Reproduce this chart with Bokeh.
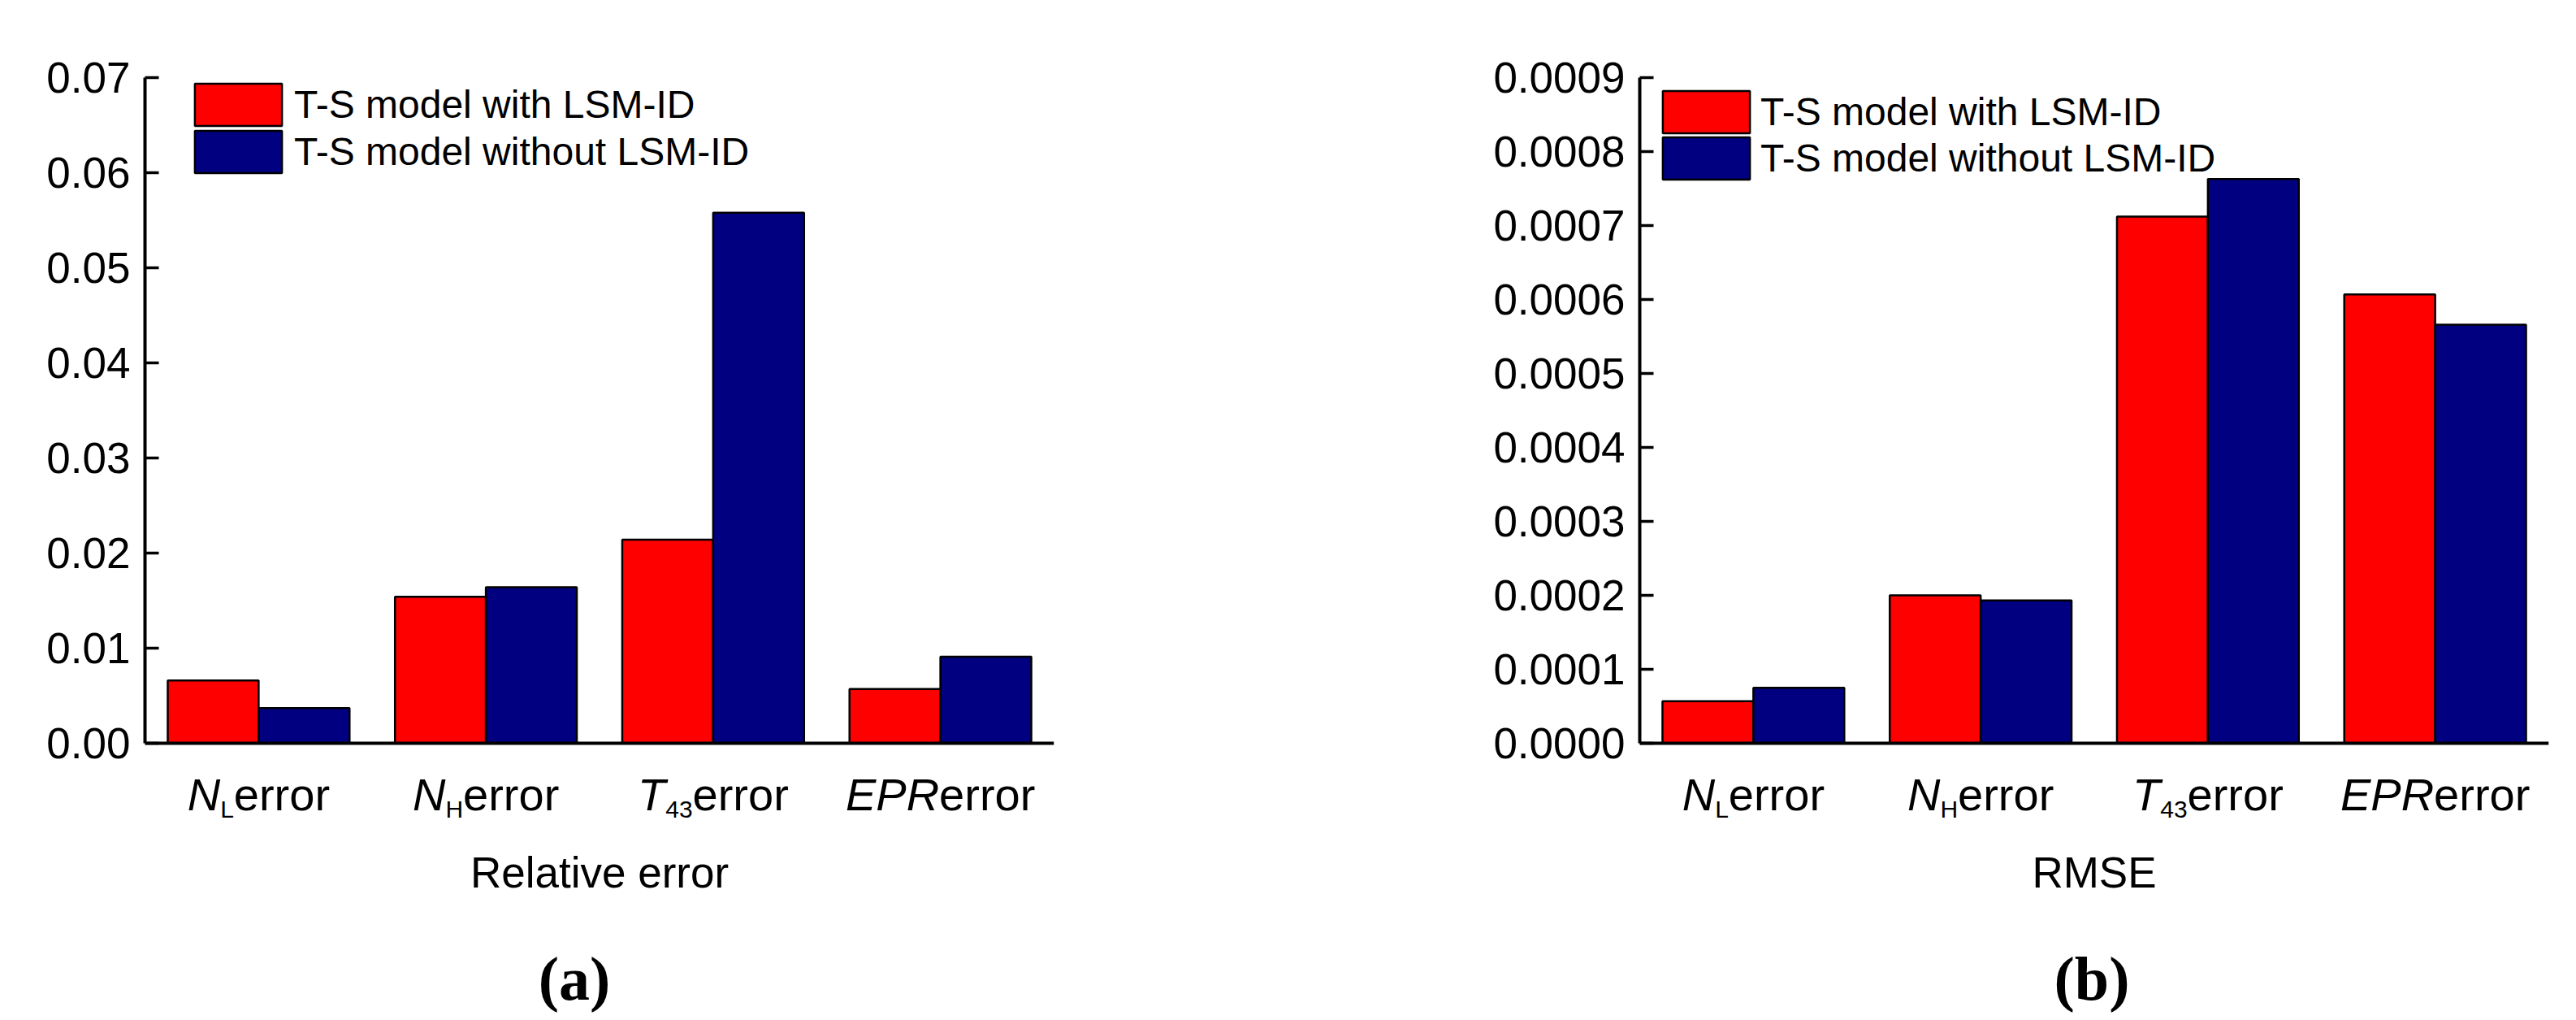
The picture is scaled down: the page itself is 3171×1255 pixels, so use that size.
from bokeh.plotting import figure
from bokeh.models import (FactorRange, Range1d, FixedTicker, NumeralTickFormatter,
                          Legend, LegendItem, ColumnDataSource)
from bokeh.core.properties import value
from bokeh.transform import dodge
from bokeh.layouts import row
from bokeh.embed import file_html
from bokeh.resources import INLINE

# ---------------- data ----------------
categories = ["NL", "NH", "T43", "EPR"]
label_main = ["N", "N", "T", "EPR"]      # italic part
label_sub = ["L", "H", "43", ""]         # subscript part
label_rest = ["error", "error", "error", "error"]

series_names = ["T-S model with LSM-ID", "T-S model without LSM-ID"]

rel_with = [0.0066, 0.0154, 0.0214, 0.0057]
rel_without = [0.0037, 0.0164, 0.0558, 0.0091]
rel_ticks = [0.0, 0.01, 0.02, 0.03, 0.04, 0.05, 0.06, 0.07]

rmse_with = [0.000057, 0.000200, 0.000712, 0.000607]
rmse_without = [0.000075, 0.000193, 0.000763, 0.000566]
rmse_ticks = [0.0, 0.0001, 0.0002, 0.0003, 0.0004, 0.0005, 0.0006, 0.0007, 0.0008, 0.0009]

# ---------------- styling ----------------
RED = "#FF0000"
NAVY = "#000080"
FONT = "Liberation Sans"
SERIF = "Liberation Serif"
CAT_PX = 56
SUB_PX = 30
FRAME_W = 1119
TOP = 95
PLOT_H = 819          # pixel height of the 0..ymax part
BOTTOM = 5
TOTAL_H = 1250
FRAME_H = TOTAL_H - TOP - BOTTOM   # frame also holds the text under the axis

# Arial/Liberation Sans advance widths (em)
W = {"N": .722, "T": .611, "E": .667, "P": .667, "R": .722, "L": .556, "H": .722,
     "4": .556, "3": .556, "e": .556, "r": .333, "o": .556}


def tw(s, px):
    return sum(W.get(c, .556) for c in s) * px


def make_panel(with_vals, without_vals, ticks, fmt, ymax, title, caption, cap_dx,
               fig_w, border_left, legend_x, legend_tops, legend_standoff):
    border_right = fig_w - border_left - FRAME_W
    per_px = ymax / PLOT_H
    y_start = -(FRAME_H - PLOT_H) * per_px
    p = figure(x_range=FactorRange(*categories), y_range=Range1d(y_start, ymax),
               width=fig_w, height=TOTAL_H, output_backend="svg",
               toolbar_location=None, title=None,
               min_border_left=border_left, min_border_right=border_right,
               min_border_top=TOP, min_border_bottom=BOTTOM)
    p.outline_line_color = None
    p.xgrid.grid_line_color = None
    p.ygrid.grid_line_color = None

    src = ColumnDataSource(dict(cat=categories, a=with_vals, b=without_vals))
    r1 = p.vbar(x=dodge("cat", -0.2, range=p.x_range), top="a", bottom=0, width=0.4,
                source=src, fill_color=RED, line_color="black", line_width=2.5)
    r2 = p.vbar(x=dodge("cat", 0.2, range=p.x_range), top="b", bottom=0, width=0.4,
                source=src, fill_color=NAVY, line_color="black", line_width=2.5)

    ya = p.yaxis[0]
    ya.bounds = (0, ymax)
    ya.ticker = FixedTicker(ticks=ticks)
    ya.formatter = NumeralTickFormatter(format=fmt)
    ya.major_label_text_font = FONT
    ya.major_label_text_font_size = "53px"
    ya.major_label_text_color = "black"
    ya.major_label_standoff = 18
    ya.axis_line_width = 4
    ya.axis_line_color = "black"
    ya.major_tick_in = 17
    ya.major_tick_out = 0
    ya.major_tick_line_width = 3.5
    ya.major_tick_line_color = "black"
    ya.minor_tick_line_color = None

    xa = p.xaxis[0]
    xa.fixed_location = 0
    xa.axis_line_width = 4
    xa.axis_line_color = "black"
    xa.major_tick_line_color = None
    xa.major_tick_out = 0
    xa.major_tick_in = 0
    xa.minor_tick_line_color = None
    xa.major_label_text_color = None
    xa.major_label_text_font_size = "1px"
    xa.major_label_standoff = 0

    # two single-item legends, stacked
    items = [LegendItem(label=series_names[0], renderers=[r1]),
             LegendItem(label=series_names[1], renderers=[r2])]
    gh = 65
    for item, top in zip(items, legend_tops):
        lg = Legend(items=[item], location=(legend_x, FRAME_H - top - gh),
                    orientation="vertical", glyph_width=134, glyph_height=gh,
                    spacing=0, padding=0, margin=0, label_standoff=legend_standoff,
                    label_text_font=FONT, label_text_font_size="48px",
                    label_text_color="black", border_line_color=None,
                    background_fill_alpha=0)
        p.add_layout(lg)

    # ---- text under the axis: category labels, axis title, caption ----
    xs, off_m, off_s, off_r = [], [], [], []
    for i, (m, s, r) in enumerate(zip(label_main, label_sub, label_rest)):
        wm, ws, wr = tw(m, CAT_PX), tw(s, SUB_PX), tw(r, CAT_PX)
        start = -(wm + ws + wr) / 2
        xs.append(i + 0.5)
        off_m.append(start)
        off_s.append(start + wm)
        off_r.append(start + wm + ws)

    n = len(categories)
    y_cat = -63 * per_px
    y_sub = -81 * per_px
    y_title = -159 * per_px
    y_cap = -289 * per_px
    p.text(x=xs, y=[y_cat] * n, text=label_main, x_offset=off_m,
           text_font=value(FONT), text_font_style="italic",
           text_font_size=value(f"{CAT_PX}px"), text_align="left",
           text_baseline="alphabetic", text_color="black")
    p.text(x=xs, y=[y_sub] * n, text=label_sub, x_offset=off_s,
           text_font=value(FONT), text_font_size=value(f"{SUB_PX}px"),
           text_align="left", text_baseline="alphabetic", text_color="black")
    p.text(x=xs, y=[y_cat] * n, text=label_rest, x_offset=off_r,
           text_font=value(FONT), text_font_size=value(f"{CAT_PX}px"),
           text_align="left", text_baseline="alphabetic", text_color="black")

    mid = n / 2
    p.text(x=[mid], y=[y_title], text=[title], text_font=value(FONT),
           text_font_size=value("53px"), text_align="center",
           text_baseline="alphabetic", text_color="black")
    p.text(x=[mid], y=[y_cap], text=[caption], x_offset=cap_dx, text_font=value(SERIF),
           text_font_style="bold", text_font_size=value("76px"), text_align="center",
           text_baseline="alphabetic", text_color="black")
    return p


left = make_panel(rel_with, rel_without, rel_ticks, "0.00", 0.07, "Relative error", "(a)",
                  -31, 1588, 178, 48, (0.5, 58.5), 2)
right = make_panel(rmse_with, rmse_without, rmse_ticks, "0.0000", 0.0009, "RMSE", "(b)",
                   -3, 1580, 430, 15, (9.5, 66.5), 0)

layout = row(left, right)
open("out.html", "w").write(file_html(layout, INLINE))
